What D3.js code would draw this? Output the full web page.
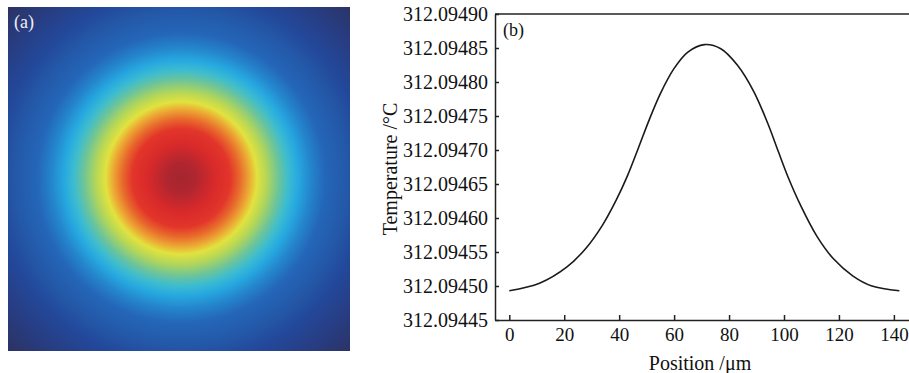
<!DOCTYPE html>
<html>
<head>
<meta charset="utf-8">
<script src="https://cdn.jsdelivr.net/npm/d3@7"></script>
<style>
    body { margin: 0; background: #fff; }
    svg { display: block; }
    text { font-family: "Liberation Serif", "Times New Roman", serif; }
</style>
</head>
<body>
<svg id="chart" width="909" height="373"></svg>
<script>
// (b) temperature along a line through the spot centre
const positionUm = [0, 11, 21, 28, 34, 39, 43, 47, 51, 55, 60, 65, 71,
    77, 83, 89, 94, 98, 101.5, 106, 112, 118, 125, 132, 142];
const temperatureC = [312.094493, 312.094504, 312.094528, 312.094556, 312.094590, 312.094627,
    312.094662, 312.094703, 312.094745, 312.094783, 312.094820, 312.094844, 312.094855,
    312.094849, 312.094825, 312.094786, 312.094740, 312.094697, 312.094660, 312.094619,
    312.094573, 312.094540, 312.094515, 312.094500, 312.094493];
const xTicks = [0, 20, 40, 60, 80, 100, 120, 140];
const yTicks = [312.09445, 312.09450, 312.09455, 312.09460, 312.09465, 312.09470, 312.09475, 312.09480, 312.09485, 312.09490];

// (a) colour of the field read at distances from the spot centre (um)
const fieldRadiusUm = [0, 6, 14, 20, 24, 28, 31, 35, 40, 44, 48, 53, 59, 68, 76, 88, 100];
const fieldColors = ["#a5262e", "#b02630", "#d92a2a", "#e2352a", "#e8692c", "#ecaa34", "#e2e23e",
    "#b4d658", "#6cc49a", "#3cbcd0", "#26a8e0", "#2486cc", "#2466b8", "#2458a8", "#23489a", "#283c80", "#2c3262"];
const fieldCenterUm = [70.9, 69.6];
const fieldSizeUm = 140;

const svg = d3.select("#chart");

// ---- panel (a) ----
const A = { left: 8, right: 350, top: 7, bottom: 351 };
const fx = d3.scaleLinear().domain([0, fieldSizeUm]).range([A.left, A.right]);
const fy = d3.scaleLinear().domain([0, fieldSizeUm]).range([A.top, A.bottom]);
const fieldColor = d3.scaleLinear().domain(fieldRadiusUm).range(fieldColors)
    .interpolate(d3.interpolateRgb).clamp(true);

const w = A.right - A.left, h = A.bottom - A.top;
const canvas = document.createElement("canvas");
canvas.width = w;
canvas.height = h;
const ctx = canvas.getContext("2d");
const img = ctx.createImageData(w, h);
for (let j = 0; j < h; j++) {
    for (let i = 0; i < w; i++) {
        const ux = fx.invert(A.left + i + 0.5) - fieldCenterUm[0];
        const uy = fy.invert(A.top + j + 0.5) - fieldCenterUm[1];
        const c = d3.rgb(fieldColor(Math.sqrt(ux * ux + uy * uy)));
        const k = (j * w + i) * 4;
        img.data[k] = c.r;
        img.data[k + 1] = c.g;
        img.data[k + 2] = c.b;
        img.data[k + 3] = 255;
    }
}
ctx.putImageData(img, 0, 0);

svg.append("image")
    .attr("x", A.left)
    .attr("y", A.top)
    .attr("width", w)
    .attr("height", h)
    .attr("href", canvas.toDataURL());

svg.append("text")
    .attr("x", 14)
    .attr("y", 28)
    .attr("fill", "#eef0f6")
    .style("font-size", "18px")
    .text("(a)");

// ---- panel (b) ----
const B = { left: 495, right: 909, top: 14, bottom: 320 };
const xScale = d3.scaleLinear().domain([-5.2, 145.5]).range([B.left, B.right]);
const yScale = d3.scaleLinear().domain([312.09445, 312.09490]).range([B.bottom, B.top]);

const line = d3.line()
    .x((d, i) => xScale(positionUm[i]))
    .y(d => yScale(d))
    .curve(d3.curveCatmullRom.alpha(0.5));

svg.append("path")
    .datum(temperatureC)
    .attr("d", line)
    .attr("fill", "none")
    .attr("stroke", "#1a1a1a")
    .attr("stroke-width", 1.6);

const xAxis = svg.append("g")
    .attr("transform", "translate(0," + B.bottom + ")")
    .call(d3.axisBottom(xScale).tickValues(xTicks).tickSizeInner(-5).tickSizeOuter(0).tickPadding(8));

const yAxis = svg.append("g")
    .attr("transform", "translate(" + B.left + ",0)")
    .call(d3.axisLeft(yScale).tickValues(yTicks).tickFormat(d3.format(".5f"))
        .tickSizeInner(-4).tickSizeOuter(0).tickPadding(7));

[xAxis, yAxis].forEach(g => {
    g.selectAll("path, line").attr("stroke", "#222").attr("stroke-width", 1.5);
    g.selectAll("text").attr("fill", "#111")
        .style("font-family", "\"Liberation Serif\", \"Times New Roman\", serif");
});
yAxis.selectAll("text").style("font-size", "20px");
xAxis.selectAll("text").style("font-size", "19px");

// top frame line
svg.append("line")
    .attr("x1", B.left).attr("x2", B.right)
    .attr("y1", B.top).attr("y2", B.top)
    .attr("stroke", "#222")
    .attr("stroke-width", 1.5);

svg.append("text")
    .attr("x", 503)
    .attr("y", 36)
    .attr("fill", "#111")
    .style("font-size", "18px")
    .text("(b)");

svg.append("text")
    .attr("x", (B.left + B.right) / 2 - 2)
    .attr("y", 370)
    .attr("text-anchor", "middle")
    .attr("fill", "#111")
    .style("font-size", "20px")
    .text("Position /μm");

svg.append("text")
    .attr("transform", "translate(397," + ((B.top + B.bottom) / 2 + 2) + ") rotate(-90)")
    .attr("text-anchor", "middle")
    .attr("fill", "#111")
    .style("font-size", "20px")
    .text("Temperature /°C");
</script>
</body>
</html>
